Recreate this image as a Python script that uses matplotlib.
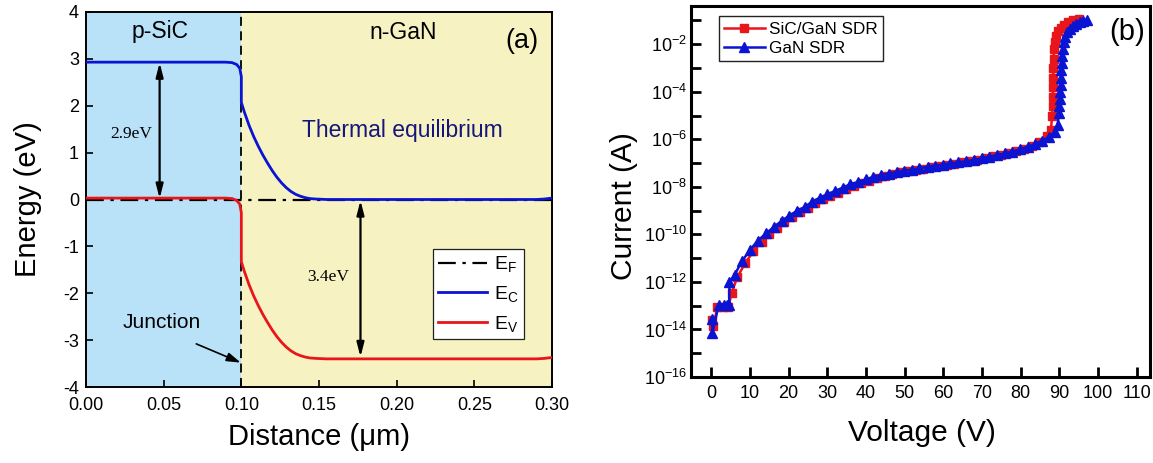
import numpy as np
import matplotlib
matplotlib.use("Agg")
import matplotlib.pyplot as plt
from matplotlib.lines import Line2D
from matplotlib.ticker import FixedLocator, LogFormatterSciNotation, NullFormatter

plt.rcParams['font.family'] = ['Liberation Sans', 'DejaVu Sans']
plt.rcParams['mathtext.fontset'] = 'custom'
plt.rcParams['mathtext.rm'] = 'Liberation Sans'
plt.rcParams['mathtext.it'] = 'Liberation Sans:italic'
plt.rcParams['axes.unicode_minus'] = False

# ---------------- Panel (a) data: band diagram ----------------
dist_ec = [0.0, 0.09, 0.094, 0.097, 0.099, 0.1, 0.1, 0.102, 0.105, 0.108, 0.111, 0.114,
           0.117, 0.12, 0.123, 0.126, 0.129, 0.132, 0.135, 0.138, 0.141, 0.144, 0.148,
           0.155, 0.29, 0.295, 0.3]
ec_vals = [2.93, 2.93, 2.92, 2.88, 2.80, 2.62, 2.07, 1.86, 1.58, 1.34, 1.13, 0.94,
           0.77, 0.61, 0.47, 0.35, 0.25, 0.17, 0.11, 0.07, 0.04, 0.02, 0.01,
           0.0, 0.0, 0.01, 0.03]
dist_ev = [0.0, 0.09, 0.094, 0.097, 0.099, 0.1, 0.1, 0.102, 0.105, 0.108, 0.111, 0.114,
           0.117, 0.12, 0.123, 0.126, 0.129, 0.132, 0.135, 0.138, 0.141, 0.144, 0.148,
           0.155, 0.29, 0.295, 0.3]
ev_vals = [0.03, 0.03, 0.02, -0.02, -0.10, -0.28, -1.33, -1.54, -1.82, -2.06, -2.27, -2.46,
           -2.63, -2.79, -2.93, -3.05, -3.15, -3.23, -3.29, -3.33, -3.36, -3.38, -3.39,
           -3.40, -3.40, -3.39, -3.37]
ef_x = [0.0, 0.3]
ef_y = [0.0, 0.0]
junction_x = 0.1

# ---------------- Panel (b) data: I-V curves ----------------
v_sicgan = [0.2, 0.5, 1.6, 3.0, 4.4, 5.3, 6.7, 8.8, 10.9, 13.0, 14.9, 17.0, 18.8, 20.9,
            22.9, 24.9, 26.8, 28.8, 30.8, 32.8, 34.8, 36.8, 38.8, 40.8, 42.8, 44.8, 46.8,
            48.8, 50.8, 52.8, 54.8, 56.8, 58.8, 60.8, 62.8, 64.8, 66.8, 68.8, 70.8, 72.8,
            74.8, 76.8, 78.8, 80.8, 82.8, 84.7, 86.7, 87.8, 88.1, 88.2, 88.3, 88.3, 88.4,
            88.4, 88.5, 88.6, 88.8, 89.1, 89.6, 90.3, 91.2, 92.3, 93.6, 95.0]
logi_sicgan = [-13.6, -13.85, -13.05, -13.05, -13.05, -12.45, -11.8, -11.2, -10.7, -10.3,
               -10.0, -9.72, -9.48, -9.27, -9.06, -8.88, -8.69, -8.53, -8.38, -8.24, -8.1,
               -7.97, -7.85, -7.74, -7.63, -7.54, -7.46, -7.39, -7.33, -7.28, -7.23, -7.17,
               -7.12, -7.07, -7.02, -6.97, -6.92, -6.86, -6.79, -6.72, -6.65, -6.58, -6.49,
               -6.39, -6.27, -6.1, -5.85, -5.6, -5.0, -4.6, -4.2, -3.8, -3.4, -3.0, -2.6,
               -2.2, -1.9, -1.65, -1.45, -1.3, -1.18, -1.08, -1.0, -0.95]
v_gan = [0.2, 0.3, 1.9, 3.2, 4.1, 4.6, 4.7, 6.0, 7.9, 10.0, 12.0, 14.2, 16.2, 18.2, 20.0,
         22.1, 24.2, 26.0, 28.0, 30.0, 31.9, 34.0, 35.9, 38.0, 40.0, 41.9, 43.8, 45.9, 48.0,
         49.9, 52.0, 53.8, 56.0, 57.8, 59.9, 61.8, 63.8, 65.8, 67.8, 69.9, 71.8, 73.9, 75.9,
         77.8, 79.9, 81.8, 83.7, 85.5, 87.4, 88.8, 89.5, 89.9, 90.0, 90.1, 90.2, 90.3, 90.4,
         90.5, 90.6, 90.7, 90.9, 91.1, 91.5, 92.0, 92.6, 93.4, 94.3, 95.3, 96.2, 97.1]
logi_gan = [-13.58, -14.14, -12.97, -12.95, -12.95, -12.95, -12.0, -11.71, -11.13, -10.66,
            -10.26, -9.96, -9.68, -9.43, -9.23, -9.01, -8.84, -8.63, -8.46, -8.31, -8.18,
            -8.03, -7.90, -7.79, -7.69, -7.58, -7.51, -7.44, -7.37, -7.32, -7.27, -7.22,
            -7.15, -7.11, -7.06, -7.01, -6.97, -6.92, -6.87, -6.80, -6.73, -6.66, -6.59,
            -6.52, -6.42, -6.31, -6.20, -6.06, -5.89, -5.68, -5.40, -4.91, -4.6, -4.3, -4.0,
            -3.7, -3.4, -3.1, -2.8, -2.5, -2.2, -1.9, -1.7, -1.5, -1.35, -1.23, -1.14,
            -1.08, -1.02, -0.97]

a_xticks = [0.0, 0.05, 0.10, 0.15, 0.20, 0.25, 0.30]
a_yticks = [-4, -3, -2, -1, 0, 1, 2, 3, 4]
b_xticks = [0, 10, 20, 30, 40, 50, 60, 70, 80, 90, 100, 110]
b_major_exp = [-16, -14, -12, -10, -8, -6, -4, -2]
b_minor_exp = [-15, -13, -11, -9, -7, -5, -3, -1]

W, H = 1153, 463
fig = plt.figure(figsize=(W / 100, H / 100), dpi=100)
fig.patch.set_facecolor('white')

BLUE = '#0a14d2'
RED = '#e8161b'

# ---------------- Panel (a) ----------------
axa = fig.add_axes([86 / W, (H - 387) / H, (552 - 86) / W, (387 - 12) / H])
axa.axvspan(0.0, junction_x, color='#b9e2f8', zorder=0, lw=0)
axa.axvspan(junction_x, 0.3, color='#f6f2c2', zorder=0, lw=0)
axa.plot(ef_x, ef_y, color='k', lw=1.6, ls=(0, (8, 3, 1.5, 3)), zorder=2)
axa.axvline(junction_x, color='k', lw=1.3, ls=(0, (5, 3)), zorder=2)
axa.plot(dist_ec, ec_vals, color=BLUE, lw=2.0, zorder=3)
axa.plot(dist_ev, ev_vals, color=RED, lw=2.0, zorder=3)

axa.set_xlim(0, 0.3)
axa.set_ylim(-4, 4)
axa.set_xticks(a_xticks)
axa.set_xticklabels([f"{t:.2f}" for t in a_xticks])
axa.set_yticks(a_yticks)
axa.tick_params(direction='in', length=5, width=1.2, labelsize=13, pad=5)
axa.tick_params(axis='x', pad=7.5)
for s in axa.spines.values():
    s.set_linewidth(1.4)

axa.set_xlabel('Distance (μm)', fontsize=21, va='center')
axa.xaxis.set_label_coords(0.5, -0.133)
axa.set_ylabel('Energy (eV)', fontsize=21, va='center')
axa.yaxis.set_label_coords(-0.125, 0.5)

axa.text(0.048, 3.58, 'p-SiC', fontsize=16.5, ha='center', va='center')
axa.text(0.204, 3.56, 'n-GaN', fontsize=16.5, ha='center', va='center')
axa.text(0.2805, 3.38, '(a)', fontsize=19.5, ha='center', va='center')
axa.text(0.2035, 1.48, 'Thermal equilibrium', fontsize=16.5, ha='center', va='center',
         color='#16167a')
axa.text(0.029, 1.39, '2.9eV', fontsize=12.5, ha='center', va='center',
         family='Liberation Serif')
axa.text(0.156, -1.65, '3.4eV', fontsize=12.5, ha='center', va='center',
         family='Liberation Serif')
axa.text(0.049, -2.63, 'Junction', fontsize=15, ha='center', va='center')

arrow_kw = dict(arrowstyle='<|-|>,head_length=0.7,head_width=0.18', color='k', lw=1.6,
                shrinkA=0, shrinkB=0, mutation_scale=12)
axa.annotate('', xy=(0.0474, 0.02), xytext=(0.0474, 2.92), arrowprops=arrow_kw)
axa.annotate('', xy=(0.1767, -3.36), xytext=(0.1767, -0.02), arrowprops=arrow_kw)
axa.annotate('', xy=(0.0996, -3.48), xytext=(0.071, -3.08),
             arrowprops=dict(arrowstyle='-|>,head_length=0.7,head_width=0.22', color='k',
                             lw=1.2, shrinkA=0, shrinkB=0, mutation_scale=12))

handles_a = [Line2D([], [], color='k', lw=1.6, ls=(0, (8, 3, 1.5, 3))),
             Line2D([], [], color=BLUE, lw=2.0),
             Line2D([], [], color=RED, lw=2.0)]
leg_a = axa.legend(handles_a, [r'$\mathregular{E_F}$', r'$\mathregular{E_C}$',
                               r'$\mathregular{E_V}$'],
                   loc='lower right', bbox_to_anchor=(0.939, 0.129), borderaxespad=0,
                   fontsize=14, handlelength=2.55, handletextpad=0.35, labelspacing=0.5,
                   borderpad=0.25, fancybox=False, framealpha=1, edgecolor='#222222')
leg_a.get_frame().set_linewidth(0.9)

# ---------------- Panel (b) ----------------
axb = fig.add_axes([691 / W, (H - 377) / H, (1150 - 691) / W, (377 - 6) / H])
i_sicgan = [10.0 ** e for e in logi_sicgan]
i_gan = [10.0 ** e for e in logi_gan]
axb.plot(v_sicgan, i_sicgan, color=RED, lw=1.8, marker='s', ms=6.2, mec=RED, mfc=RED,
         label='SiC/GaN SDR', zorder=3)
axb.plot(v_gan, i_gan, color=BLUE, lw=1.8, marker='^', ms=7.5, mec=BLUE, mfc=BLUE,
         label='GaN SDR', zorder=4)
axb.set_yscale('log')
axb.set_xlim(-5.25, 113.4)
axb.set_ylim(1e-16, 10 ** -0.39)
axb.set_xticks(b_xticks)
axb.yaxis.set_major_locator(FixedLocator([10.0 ** e for e in b_major_exp]))
axb.yaxis.set_minor_locator(FixedLocator([10.0 ** e for e in b_minor_exp]))
axb.yaxis.set_major_formatter(LogFormatterSciNotation())
axb.yaxis.set_minor_formatter(NullFormatter())
axb.tick_params(which='both', direction='in', length=7, width=2.0, labelsize=13)
axb.tick_params(axis='x', pad=6)
axb.tick_params(axis='y', pad=3)
for s in axb.spines.values():
    s.set_linewidth(2.2)

axb.set_xlabel('Voltage (V)', fontsize=21.5, va='center')
axb.xaxis.set_label_coords(0.503, -0.15)
axb.set_ylabel('Current (A)', fontsize=21.5, va='center')
axb.yaxis.set_label_coords(-0.146, 0.46)
axb.text(0.951, 0.931, '(b)', transform=axb.transAxes, fontsize=21, ha='center',
         va='center')

leg_b = axb.legend(loc='upper left', bbox_to_anchor=(0.06, 0.972), borderaxespad=0,
                   fontsize=12.3, handlelength=2.4, handletextpad=0.25, labelspacing=0.25,
                   borderpad=0.3, fancybox=False, framealpha=1, edgecolor='#222222',
                   markerscale=0.9)
leg_b.get_frame().set_linewidth(1.0)

fig.savefig('out.png', dpi=100)
